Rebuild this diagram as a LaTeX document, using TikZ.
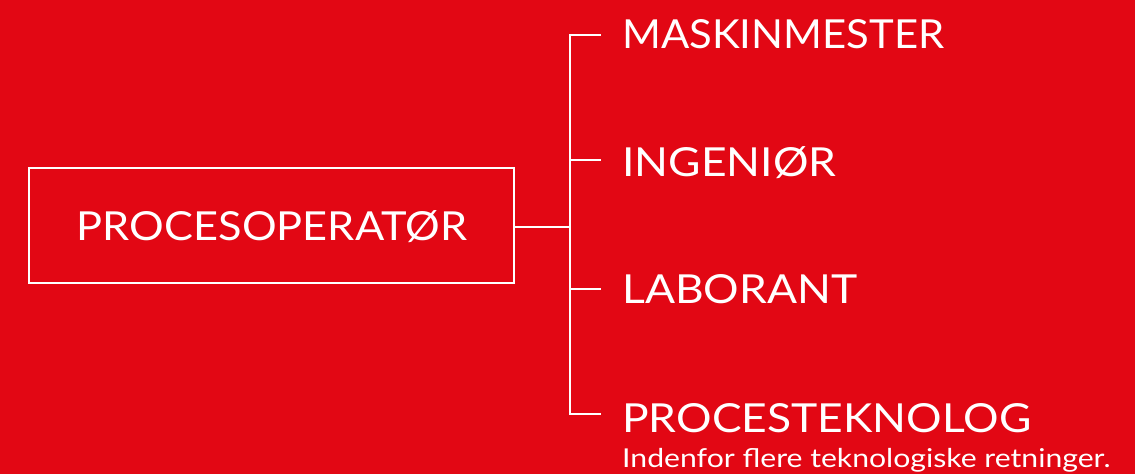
\documentclass[tikz,border=0pt]{standalone}
\usepackage{fontspec}
\setmainfont{Lato}
\definecolor{bgred}{RGB}{226,7,20}
\begin{document}
\begin{tikzpicture}[x=1pt,y=-1pt,
  conn/.style={draw=white,line width=2pt},
  lbl/.style={anchor=base west,inner sep=0pt,text=white,font=\fontsize{40}{48}\selectfont},
  sub/.style={anchor=base west,inner sep=0pt,text=white,font=\fontsize{26}{32}\selectfont},
  mainbox/.style={draw=white,line width=2pt,minimum width=485pt,minimum height=115pt,inner sep=0pt}]
\fill[bgred] (0,0) rectangle (1135,474);
\useasboundingbox (0,0) rectangle (1135,474);
\node[mainbox] (proc) at (271.5,225.5) {};
\node[anchor=base,inner sep=0pt,text=white,font=\fontsize{40}{48}\selectfont] (proctext) at (272,240) {\scalebox{1.083}[1]{PROCESOPERATØR}};
\node[lbl] (l1) at (622,48) {\scalebox{1.046}[1]{MASKINMESTER}};
\node[lbl] (l2) at (622,176) {\scalebox{1.11}[1]{INGENIØR}};
\node[lbl] (l3) at (622,303) {\scalebox{1.11}[1]{LABORANT}};
\node[lbl] (l4) at (622,432) {\scalebox{1.11}[1]{PROCESTEKNOLOG}};
\node[sub] (l5) at (622,467) {\scalebox{1.16}[1]{Indenfor flere teknologiske retninger.}};
\coordinate (hub) at (570,226.5);
\coordinate (t1) at (570,35);
\coordinate (t2) at (570,160);
\coordinate (t3) at (570,289);
\coordinate (t4) at (570,414);
\coordinate (e1) at (601,35);
\coordinate (e2) at (601,160);
\coordinate (e3) at (601,289);
\coordinate (e4) at (601,414);
\draw[conn] (proc.east |- hub) -- (hub);
\draw[conn] (e1) -- (t1) -- (t4) -- (e4);
\draw[conn] (t2) -- (e2);
\draw[conn] (t3) -- (e3);
\end{tikzpicture}
\end{document}
